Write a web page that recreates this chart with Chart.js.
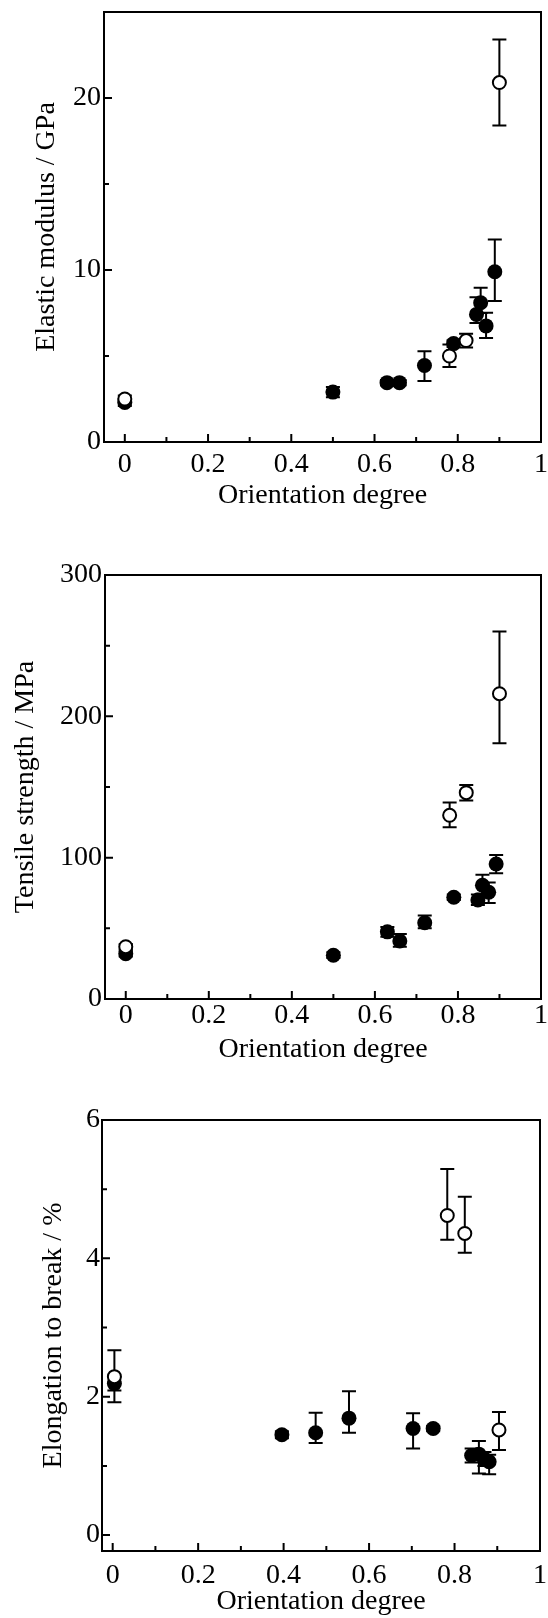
<!DOCTYPE html>
<html>
<head>
<meta charset="utf-8">
<script src="https://cdn.jsdelivr.net/npm/chart.js@4.4.1/dist/chart.umd.min.js"></script>
<style>
  body { margin: 0; background: #fff; }
  #wrap { position: relative; width: 548px; height: 1618px; }
  canvas { position: absolute; left: 0; }
</style>
</head>
<body>
<div id="wrap">
  <canvas id="modChart" width="548" height="520" style="top:0px"></canvas>
  <canvas id="tenChart" width="548" height="546" style="top:520px"></canvas>
  <canvas id="elongChart" width="548" height="552" style="top:1066px"></canvas>
</div>
<script>
// orientation degree axis, shared by the three panels
let xTicks = [0, 0.1, 0.2, 0.3, 0.4, 0.5, 0.6, 0.7, 0.8, 0.9, 1];
let xLabels = [0, 0.2, 0.4, 0.6, 0.8, 1];

// elastic modulus / GPa   (err = [down, up])
let modOpenX = [0, 0.78, 0.82, 0.9];
let modOpenY = [2.5, 5.0, 5.9, 20.9];
let modOpenErr = [[0.2, 0.2], [0.64, 0.67], [0.4, 0.4], [2.5, 2.5]];
let modFillX = [0, 0.5, 0.63, 0.66, 0.72, 0.79, 0.845, 0.855, 0.868, 0.889];
let modFillY = [2.3, 2.9, 3.45, 3.45, 4.45, 5.72, 7.42, 8.1, 6.75, 9.9];
let modFillErr = [[0.2, 0.2], [0.3, 0.3], [0.15, 0.15], [0.15, 0.15], [0.9, 0.83], [0.2, 0.2], [0.5, 1.0], [0.6, 0.87], [0.7, 0.77], [1.7, 1.87]];
let modTicks = [0, 5, 10, 15, 20];
let modLabels = [0, 10, 20];

// tensile strength / MPa
let tenOpenX = [0, 0.78, 0.82, 0.9];
let tenOpenY = [37, 130, 146, 216];
let tenOpenErr = [[2, 2], [8.5, 9], [5.5, 5.5], [35, 44]];
let tenFillX = [0, 0.5, 0.63, 0.66, 0.72, 0.79, 0.848, 0.859, 0.874, 0.892];
let tenFillY = [32, 31, 47.5, 41, 54, 72, 70, 80.5, 75.5, 95.5];
let tenFillErr = [[2, 2], [2, 2], [3.5, 3.5], [4, 5], [4, 5], [2, 2], [3.5, 4], [6, 7.5], [7.5, 7], [6.5, 6.3]];
let tenTicks = [0, 50, 100, 150, 200, 250, 300];
let tenLabels = [0, 100, 200, 300];

// elongation to break / %
let elOpenX = [0.004, 0.783, 0.824, 0.904];
let elOpenY = [2.29, 4.62, 4.36, 1.52];
let elOpenErr = [[0.37, 0.38], [0.35, 0.67], [0.28, 0.53], [0.29, 0.26]];
let elFillX = [0.004, 0.396, 0.475, 0.553, 0.703, 0.75, 0.84, 0.857, 0.87, 0.881];
let elFillY = [2.19, 1.45, 1.48, 1.69, 1.54, 1.54, 1.15, 1.17, 1.1, 1.06];
let elFillErr = [[0.1, 0.1], [0.05, 0.05], [0.15, 0.29], [0.21, 0.39], [0.29, 0.22], [0.04, 0.04], [0.1, 0.1], [0.28, 0.19], [0.1, 0.1], [0.18, 0.1]];
let elTicks = [0, 1, 2, 3, 4, 5, 6];
let elLabels = [0, 2, 4, 6];

Chart.defaults.font.family = '"Liberation Serif", "Times New Roman", serif';
Chart.defaults.font.size = 28;
Chart.defaults.color = '#000';

function pts(xs, ys) {
    return xs.map((x, i) => ({x: x, y: ys[i]}));
}

// no extra room for the end labels, the plot box is placed by hand
function noPad(s) {
    s.paddingTop = 0; s.paddingBottom = 0; s.paddingLeft = 0; s.paddingRight = 0;
}

// frame, inward ticks and error bars
let framePlugin = {
    id: 'frame',
    beforeDatasetsDraw(chart) {
        let ctx = chart.ctx, xs = chart.scales.x, ys = chart.scales.y;
        ctx.save();
        ctx.strokeStyle = '#000';
        ctx.lineWidth = 2;
        chart.data.datasets.forEach(ds => {
            ds.data.forEach((p, i) => {
                let e = ds.err[i];
                let px = xs.getPixelForValue(p.x);
                let top = ys.getPixelForValue(p.y + e[1]);
                let bot = ys.getPixelForValue(p.y - e[0]);
                ctx.beginPath();
                ctx.moveTo(px, top); ctx.lineTo(px, bot);
                ctx.moveTo(px - 7, top); ctx.lineTo(px + 7, top);
                ctx.moveTo(px - 7, bot); ctx.lineTo(px + 7, bot);
                ctx.stroke();
            });
        });
        ctx.restore();
    },
    afterDraw(chart) {
        let ctx = chart.ctx, a = chart.chartArea, xs = chart.scales.x, ys = chart.scales.y;
        ctx.save();
        ctx.strokeStyle = '#000';
        ctx.lineWidth = 2;
        ctx.strokeRect(a.left, a.top, a.right - a.left, a.bottom - a.top);
        ctx.beginPath();
        xs.ticks.forEach(t => {
            let len = t.label !== '' ? 8 : 5;
            let px = xs.getPixelForValue(t.value);
            ctx.moveTo(px, a.bottom); ctx.lineTo(px, a.bottom - len);
        });
        ys.ticks.forEach(t => {
            let len = t.label !== '' ? 8 : 5;
            let py = ys.getPixelForValue(t.value);
            ctx.moveTo(a.left, py); ctx.lineTo(a.left + len, py);
        });
        ctx.stroke();
        ctx.restore();
    }
};

function makeChart(id, c) {
    return new Chart(document.getElementById(id), {
        type: 'scatter',
        data: {
            datasets: [{
                data: pts(c.openX, c.openY),
                err: c.openErr,
                pointRadius: 6.5,
                pointBackgroundColor: '#fff',
                pointBorderColor: '#000',
                pointBorderWidth: 2
            }, {
                data: pts(c.fillX, c.fillY),
                err: c.fillErr,
                pointRadius: 7.5,
                pointBackgroundColor: '#000',
                pointBorderColor: '#000',
                pointBorderWidth: 0
            }]
        },
        options: {
            responsive: false,
            animation: false,
            devicePixelRatio: 1,
            layout: {
                autoPadding: false,
                padding: {top: c.top, right: c.right, left: 0, bottom: 0}
            },
            plugins: {legend: {display: false}, tooltip: {enabled: false}},
            scales: {
                x: {
                    type: 'linear',
                    min: c.xMin, max: 1,
                    grid: {display: false, drawTicks: false},
                    border: {display: false},
                    afterBuildTicks: s => { s.ticks = xTicks.map(v => ({value: v})); },
                    afterFit: s => { s.height = c.xHeight; noPad(s); },
                    ticks: {
                        autoSkip: false, maxRotation: 0, padding: c.xPad,
                        callback: v => xLabels.includes(v) ? String(v) : ''
                    },
                    title: {display: true, text: 'Orientation degree', padding: {top: 0, bottom: c.xTitlePad}}
                },
                y: {
                    type: 'linear',
                    min: c.yMin, max: c.yMax,
                    grid: {display: false, drawTicks: false},
                    border: {display: false},
                    afterBuildTicks: s => { s.ticks = c.yTicks.map(v => ({value: v})); },
                    afterFit: s => { s.width = c.yWidth; noPad(s); },
                    ticks: {
                        autoSkip: false, padding: c.yPad,
                        callback: v => c.yLabels.includes(v) ? String(v) : ''
                    },
                    title: {display: true, text: c.yTitle, padding: {top: c.yTitlePad, bottom: 0}}
                }
            }
        },
        plugins: [framePlugin]
    });
}

makeChart('modChart', {
    openX: modOpenX, openY: modOpenY, openErr: modOpenErr,
    fillX: modFillX, fillY: modFillY, fillErr: modFillErr,
    yTicks: modTicks, yLabels: modLabels, yMin: 0, yMax: 25, xMin: -0.05,
    yTitle: 'Elastic modulus / GPa',
    top: 12, right: 7, xHeight: 78, yWidth: 104,
    xPad: 6, xTitlePad: 8, yPad: 3, yTitlePad: 30
});

makeChart('tenChart', {
    openX: tenOpenX, openY: tenOpenY, openErr: tenOpenErr,
    fillX: tenFillX, fillY: tenFillY, fillErr: tenFillErr,
    yTicks: tenTicks, yLabels: tenLabels, yMin: 0, yMax: 300, xMin: -0.05,
    yTitle: 'Tensile strength / MPa',
    top: 55, right: 7, xHeight: 67, yWidth: 105,
    xPad: 0, xTitlePad: 0, yPad: 3, yTitlePad: 9
});

makeChart('elongChart', {
    openX: elOpenX, openY: elOpenY, openErr: elOpenErr,
    fillX: elFillX, fillY: elFillY, fillErr: elFillErr,
    yTicks: elTicks, yLabels: elLabels, yMin: -0.23, yMax: 6, xMin: -0.025,
    yTitle: 'Elongation to break / %',
    top: 54, right: 8, xHeight: 67, yWidth: 102,
    xPad: 8, xTitlePad: 0, yPad: 2, yTitlePad: 37
});
</script>
</body>
</html>
